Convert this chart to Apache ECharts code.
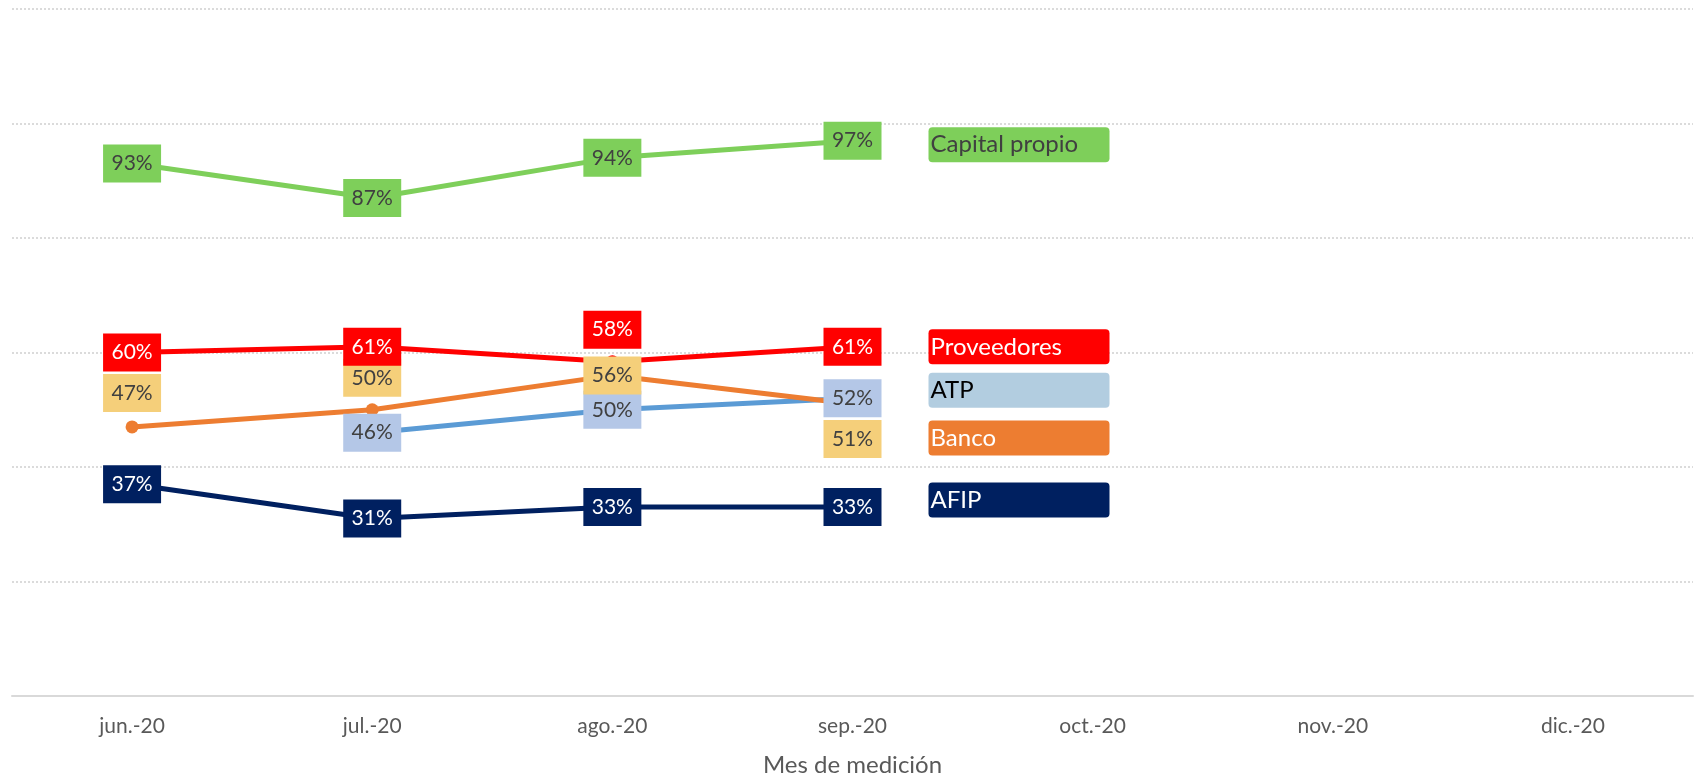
<!DOCTYPE html>
<html>
<head>
<meta charset="utf-8">
<script src="https://cdn.jsdelivr.net/npm/echarts@6/dist/echarts.min.js"></script>
<style>
  html, body { margin: 0; padding: 0; background: #fff; }
  #chart { width: 1699px; height: 782px; }
</style>
</head>
<body>
<div id="chart"></div>
<script>
// data
const months = ['jun.-20', 'jul.-20', 'ago.-20', 'sep.-20', 'oct.-20', 'nov.-20', 'dic.-20'];
const capitalPropio = [93, 87, 94, 97];
const proveedores = [60, 61, 58.4, 61];
const atp = [null, 46, 50, 52];
const banco = [47, 50, 56, 51];
const afip = [37, 31, 33, 33];

// vertical shift of each value box (px), per point
const proveedoresShift = [0, 0, -32, 0];
const bancoShift = [-34, -32, 0, 35];

const FONT = 'Lato, "Liberation Sans", sans-serif';

function makeSeries(name, values, shifts, o) {
  return {
    name: name,
    type: 'line',
    data: values.map(function (v, i) {
      return {
        value: v,
        label: { offset: [0, shifts ? shifts[i] : 0] }
      };
    }),
    symbol: 'circle',
    symbolSize: 13,
    showSymbol: true,
    lineStyle: { width: 5, color: o.line },
    itemStyle: { color: o.line },
    label: {
      show: true,
      position: 'inside',
      formatter: function (p) { return Math.round(p.value) + '%'; },
      fontFamily: FONT,
      fontSize: 21,
      lineHeight: 22,
      color: o.text,
      backgroundColor: o.box,
      width: 58,
      align: 'center',
      padding: [8, 0]
    },
    endLabel: {
      show: true,
      formatter: name,
      distance: 0,
      offset: [76, o.endDy],
      align: 'left',
      verticalAlign: 'middle',
      fontFamily: FONT,
      fontSize: 24,
      lineHeight: 27,
      color: o.endText,
      backgroundColor: o.endBox,
      borderRadius: 4,
      width: 177,
      padding: [4, 2]
    },
    emphasis: { disabled: true }
  };
}

const chart = echarts.init(document.getElementById('chart'));
chart.setOption({
  animation: false,
  grid: { left: 12, right: 6, top: 9, bottom: 84, containLabel: false },
  xAxis: {
    type: 'category',
    data: months,
    boundaryGap: true,
    name: 'Mes de medición',
    nameLocation: 'middle',
    nameGap: 57,
    nameTextStyle: { fontFamily: FONT, fontSize: 24, color: '#595959' },
    axisLine: { lineStyle: { color: '#D9D9D9', width: 2 } },
    axisTick: { show: false },
    axisLabel: { fontFamily: FONT, fontSize: 21, color: '#595959', margin: 20 }
  },
  yAxis: {
    type: 'value',
    min: 0,
    max: 120,
    interval: 20,
    axisLabel: { show: false },
    axisLine: { show: false },
    axisTick: { show: false },
    splitLine: { lineStyle: { type: [2, 2], color: '#D0D0D0', width: 1.5 } }
  },
  series: [
    makeSeries('Capital propio', capitalPropio, null, {
      line: '#7ECF5A', box: '#7ECF5A', text: '#404040',
      endBox: '#7ECF5A', endText: '#404040', endDy: 4
    }),
    makeSeries('AFIP', afip, null, {
      line: '#002060', box: '#002060', text: '#ffffff',
      endBox: '#002060', endText: '#ffffff', endDy: -7
    }),
    makeSeries('ATP', atp, null, {
      line: '#5B9BD5', box: '#B4C7E7', text: '#404040',
      endBox: '#B2CDE0', endText: '#000000', endDy: -8
    }),
    makeSeries('Banco', banco, bancoShift, {
      line: '#ED7D31', box: '#F5CF7A', text: '#404040',
      endBox: '#ED7D31', endText: '#ffffff', endDy: 34
    }),
    makeSeries('Proveedores', proveedores, proveedoresShift, {
      line: '#FF0000', box: '#FF0000', text: '#ffffff',
      endBox: '#FF0000', endText: '#ffffff', endDy: 0
    })
  ]
});
</script>
</body>
</html>
